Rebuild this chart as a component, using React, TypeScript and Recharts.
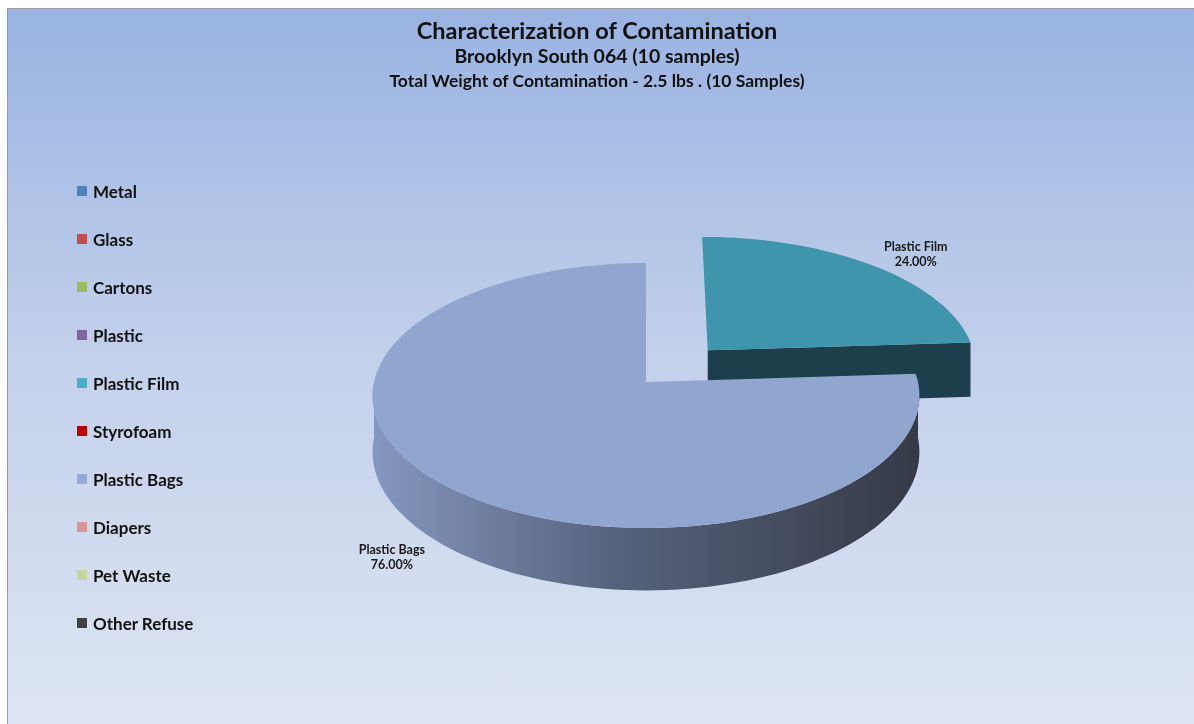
import React from "react";
import { PieChart, Pie, Cell, Legend } from "recharts";

const categories = [
  "Metal", "Glass", "Cartons", "Plastic", "Plastic Film",
  "Styrofoam", "Plastic Bags", "Diapers", "Pet Waste", "Other Refuse",
];
const shares = [0, 0, 0, 0, 24, 0, 76, 0, 0, 0];
const legendColors = [
  "#4f81bd", "#c0504d", "#9bbb59", "#8064a2", "#4bacc6",
  "#c00000", "#95abd5", "#d99694", "#c3d69b", "#404040",
];
const topColors = [
  "#4f81bd", "#c0504d", "#9bbb59", "#8064a2", "#3f95ab",
  "#c00000", "#91a6cf", "#d99694", "#c3d69b", "#404040",
];
const sideLight = [
  "#3b6190", "#903c3a", "#748d43", "#604b7a", "#1c3f4b",
  "#900000", "#8597bf", "#a37170", "#93a175", "#303030",
];
const sideDark = [
  "#2b4768", "#682b2a", "#546631", "#453758", "#1c3f4b",
  "#680000", "#353a47", "#765251", "#6a7554", "#222222",
];

const data = categories.map((name, i) => ({ name, value: shares[i] }));

const W = 1194;
const H = 724;
const CX = 641;
const CY = 377;
const R = 272;
const TILT = 0.482; // vertical squash of the top face
const PERSP = 0.102; // far side smaller than near side
const DEPTH = 56;
const EXPLODED = "Plastic Film";
const EXPLODE = 0.34;
const FONT = "Lato, 'Open Sans', sans-serif";

const rad = (a: number) => (a * Math.PI) / 180;

// X: right, Z: away from viewer (unit = radius), h: 0 top, 1 bottom
function proj(cx: number, cy: number, r: number, X: number, Z: number, h = 0) {
  const s = 1 / (1 + PERSP * Z);
  return [cx + r * X * s, cy - r * TILT * Z * s + h * DEPTH * s];
}

function offsetOf(midAngle: number, name: string) {
  const ex = name === EXPLODED ? EXPLODE : 0;
  const m = rad(midAngle);
  return [ex * Math.cos(m), ex * Math.sin(m)];
}

function rimPts(cx: number, cy: number, r: number, ox: number, oz: number, a1: number, a2: number, h: number) {
  const n = Math.max(2, Math.ceil(Math.abs(a2 - a1) / 2));
  const pts: number[][] = [];
  for (let i = 0; i <= n; i++) {
    const a = rad(a1 + ((a2 - a1) * i) / n);
    pts.push(proj(cx, cy, r, ox + Math.cos(a), oz + Math.sin(a), h));
  }
  return pts;
}

const toD = (pts: number[][]) =>
  "M" + pts.map((p) => p[0].toFixed(1) + "," + p[1].toFixed(1)).join("L") + "Z";

function Slice3D(props: any) {
  const { cx, cy, outerRadius: r, startAngle, endAngle, midAngle } = props;
  if (Math.abs(endAngle - startAngle) < 0.01) return null;
  const name = props.payload?.name ?? props.name;
  const idx = categories.indexOf(name);
  const [ox, oz] = offsetOf(midAngle, name);
  const hi = Math.max(startAngle, endAngle);
  const lo = Math.min(startAngle, endAngle);

  const c0 = proj(cx, cy, r, ox, oz, 0);
  const c1 = proj(cx, cy, r, ox, oz, 1);
  const top = [c0, ...rimPts(cx, cy, r, ox, oz, startAngle, endAngle, 0)];

  // outer wall: only the front half of the rim is seen
  const walls: number[][][] = [];
  for (let k = -1; k <= 1; k++) {
    const a2 = Math.max(lo, -180 + 360 * k);
    const a1 = Math.min(hi, 360 * k);
    if (a1 - a2 > 0.01) {
      const up = rimPts(cx, cy, r, ox, oz, a1, a2, 0);
      const down = rimPts(cx, cy, r, ox, oz, a1, a2, 1);
      walls.push([...up, ...down.reverse()]);
    }
  }
  // radial faces, only those turned towards the viewer
  const faces = [
    { a: startAngle, show: Math.cos(rad(startAngle)) < -0.01 },
    { a: endAngle, show: Math.cos(rad(endAngle)) > 0.01 },
  ]
    .filter((f) => f.show)
    .map(({ a }) => {
      const X = ox + Math.cos(rad(a));
      const Z = oz + Math.sin(rad(a));
      return [c0, proj(cx, cy, r, X, Z, 0), proj(cx, cy, r, X, Z, 1), c1];
    });
  const gid = `side-${idx}`;

  return (
    <g>
      <defs>
        <linearGradient id={gid} gradientUnits="userSpaceOnUse" x1={cx - r} y1={0} x2={cx + r} y2={0}>
          <stop offset="0" stopColor={sideLight[idx]} />
          <stop offset="0.45" stopColor={idx === 6 ? "#56627c" : sideLight[idx]} />
          <stop offset="1" stopColor={sideDark[idx]} />
        </linearGradient>
      </defs>
      {faces.map((f, i) => (
        <path key={i} d={toD(f)} fill={sideDark[idx]} />
      ))}
      {walls.map((w, i) => (
        <path key={i} d={toD(w)} fill={`url(#${gid})`} />
      ))}
      <path d={toD(top)} fill={topColors[idx]} />
    </g>
  );
}

function renderLabel(props: any) {
  const { cx, cy, midAngle, outerRadius: r, percent, value } = props;
  if (!value) return null;
  const name = props.payload?.name ?? props.name;
  const [ox, oz] = offsetOf(midAngle, name);
  const m = rad(midAngle);
  const Z = oz + 1.15 * Math.sin(m);
  const [px, py] = proj(cx, cy, r, ox + 1.15 * Math.cos(m), Z, Z < 0 ? 0.9 : 0);
  const x = px + Math.sign(Math.cos(m)) * 20;
  const y = py;
  return (
    <text x={x} y={y - 3} textAnchor="middle" fontSize={12.5} fontWeight={700} fill="#1a1a1a" fontFamily={FONT}>
      <tspan x={x} dy={0}>{name}</tspan>
      <tspan x={x} dy={15}>{(percent * 100).toFixed(2)}%</tspan>
    </text>
  );
}

function LegendList({ payload }: any) {
  const items = [...(payload || [])].sort(
    (a: any, b: any) => categories.indexOf(a.value) - categories.indexOf(b.value)
  );
  return (
    <ul style={{ listStyle: "none", margin: 0, padding: 0, fontFamily: FONT }}>
      {items.map((e: any, i: number) => (
        <li key={i} style={{ height: 48, display: "flex", alignItems: "center" }}>
          <span style={{ width: 10, height: 10, background: legendColors[categories.indexOf(e.value)] ?? e.color, marginRight: 6 }} />
          <span style={{ fontSize: 17, fontWeight: 700, color: "#111" }}>{e.value}</span>
        </li>
      ))}
    </ul>
  );
}

export default function App() {
  return (
    <div style={{ position: "fixed", left: 0, top: 0, width: W, height: H, overflow: "hidden", fontFamily: FONT }}>
      <div
        style={{
          position: "absolute", left: 7, top: 8, right: 0, bottom: 0,
          borderLeft: "1px solid #9a9a9a", borderTop: "1px solid #9a9a9a",
          background: "linear-gradient(to bottom, #99b3e2 0%, #c4d1eb 50%, #dde5f3 100%)",
        }}
      />
      <div style={{ position: "absolute", left: 0, width: W, top: 16, textAlign: "center", color: "#111", fontWeight: 700 }}>
        <div style={{ fontSize: 23.5, lineHeight: "28px" }}>Characterization of Contamination</div>
        <div style={{ fontSize: 19.5, lineHeight: "24px" }}>Brooklyn South 064 (10 samples)</div>
        <div style={{ fontSize: 17.5, lineHeight: "25px" }}>Total Weight of Contamination - 2.5 lbs . (10 Samples)</div>
      </div>
      <div style={{ position: "absolute", left: 0, top: 0 }}>
        <PieChart width={W} height={H}>
          <Legend
            layout="horizontal"
            align="center"
            verticalAlign="middle"
            itemSorter={null as any}
            wrapperStyle={{ left: 77, top: 167, width: 200 }}
            content={(p: any) => <LegendList payload={p.payload} />}
          />
          <Pie
            data={data}
            dataKey="value"
            nameKey="name"
            cx={CX}
            cy={CY}
            outerRadius={R}
            startAngle={90}
            endAngle={-270}
            stroke="none"
            shape={Slice3D}
            label={renderLabel}
            labelLine={false}
            isAnimationActive={false}
          >
            {data.map((d, i) => (
              <Cell key={d.name} fill={legendColors[i]} />
            ))}
          </Pie>
        </PieChart>
      </div>
    </div>
  );
}
